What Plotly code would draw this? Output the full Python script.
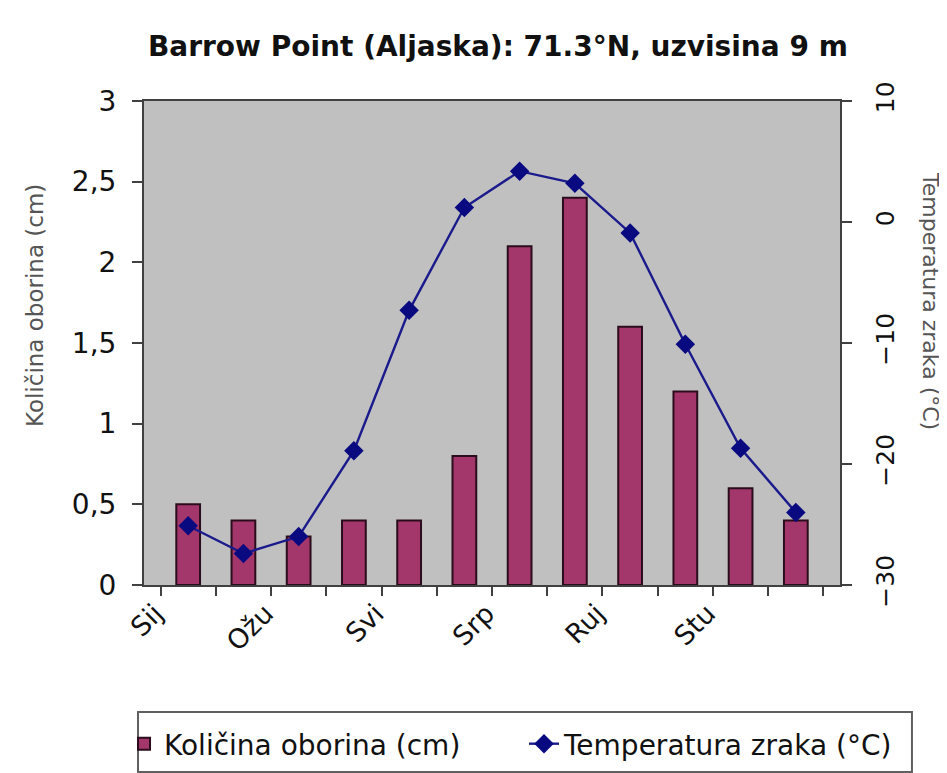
import plotly.graph_objects as go

months = ["Sij", "Velj", "Ožu", "Tra", "Svi", "Lip", "Srp", "Kol", "Ruj", "Lis", "Stu", "Pro"]
month_labels = ["Sij", "", "Ožu", "", "Svi", "", "Srp", "", "Ruj", "", "Stu", ""]
precip_cm = [0.5, 0.4, 0.3, 0.4, 0.4, 0.8, 2.1, 2.4, 1.6, 1.2, 0.6, 0.4]
temp_c = [-25.1, -27.4, -26.0, -18.9, -7.3, 1.2, 4.2, 3.2, -0.9, -10.1, -18.7, -24.0]

title_text = "Barrow Point (Aljaska): 71.3°N, uzvisina 9 m"
bar_name = "Količina oborina (cm)"
line_name = "Temperatura zraka (°C)"

FONT = "DejaVu Sans, Liberation Sans, Arial, sans-serif"
TXT = "#111111"

fig = go.Figure()
fig.add_trace(go.Bar(
    x=months, y=precip_cm, name=bar_name, width=0.43,
    marker=dict(color="#a3376b", line=dict(color="#2a0c1c", width=2)),
    yaxis="y",
))
fig.add_trace(go.Scatter(
    x=months, y=temp_c, name=line_name, mode="lines+markers",
    line=dict(color="#1a1a8c", width=2.4),
    marker=dict(symbol="diamond", size=15, color="#0a0a80"),
    yaxis="y2",
))

fig.update_layout(
    width=939, height=773,
    margin=dict(l=136, r=107, t=93, b=196),
    paper_bgcolor="white",
    plot_bgcolor="#c0c0c0",
    separators=", ",
    font=dict(family=FONT, color=TXT),
    showlegend=True,
    xaxis=dict(
        type="category",
        tickmode="array", tickvals=months, ticktext=month_labels,
        tickson="boundaries",
        ticks="outside", ticklen=9, tickwidth=1.5, tickcolor="#404040",
        tickangle=-45, ticklabelshift=-33,
        tickfont=dict(size=27, family=FONT, color=TXT),
        showline=True, linecolor="#404040", linewidth=2, mirror=True,
        showgrid=False, zeroline=False,
    ),
    yaxis=dict(
        range=[0, 3], dtick=0.5, tick0=0,
        ticks="outside", ticklen=10, tickwidth=1.5, tickcolor="#404040",
        ticklabelstandoff=10,
        tickfont=dict(size=28, family=FONT, color=TXT),
        showline=True, linecolor="#404040", linewidth=2,
        showgrid=False, zeroline=False,
    ),
    yaxis2=dict(
        range=[-30, 10], dtick=10, tick0=-30,
        overlaying="y", side="right",
        ticks="outside", ticklen=10, tickwidth=1.5, tickcolor="#404040",
        tickangle=-90, ticklabelstandoff=12,
        tickfont=dict(size=25, family=FONT, color=TXT),
        showline=True, linecolor="#404040", linewidth=2,
        showgrid=False, zeroline=False,
    ),
    legend=dict(
        orientation="h",
        x=-0.0287, xanchor="left",
        y=-0.3285, yanchor="middle",
        bgcolor="rgba(0,0,0,0)", borderwidth=0,
        font=dict(size=28, family=FONT, color=TXT),
        itemwidth=30,
        entrywidth=355,
        traceorder="normal",
    ),
    shapes=[
        dict(type="rect", xref="paper", yref="paper",
             x0=-0.0086, x1=1.1034, y0=-0.3864, y1=-0.2624,
             line=dict(color="#606060", width=2), fillcolor="white", layer="below"),
    ],
    annotations=[
        dict(text="<b>" + title_text + "</b>", xref="paper", yref="paper",
             x=0.5086, y=1.1116, xanchor="center", yanchor="middle",
             showarrow=False, font=dict(size=28, family=FONT, color=TXT)),
        dict(text=bar_name, xref="paper", yref="paper",
             x=-0.1566, y=0.5764, textangle=-90,
             xanchor="center", yanchor="middle", showarrow=False,
             font=dict(size=23, family=FONT, color="#555555")),
        dict(text=line_name, xref="paper", yref="paper",
             x=1.1293, y=0.5868, textangle=90,
             xanchor="center", yanchor="middle", showarrow=False,
             font=dict(size=22, family=FONT, color="#555555")),
    ],
)

fig.write_html("out.html")
